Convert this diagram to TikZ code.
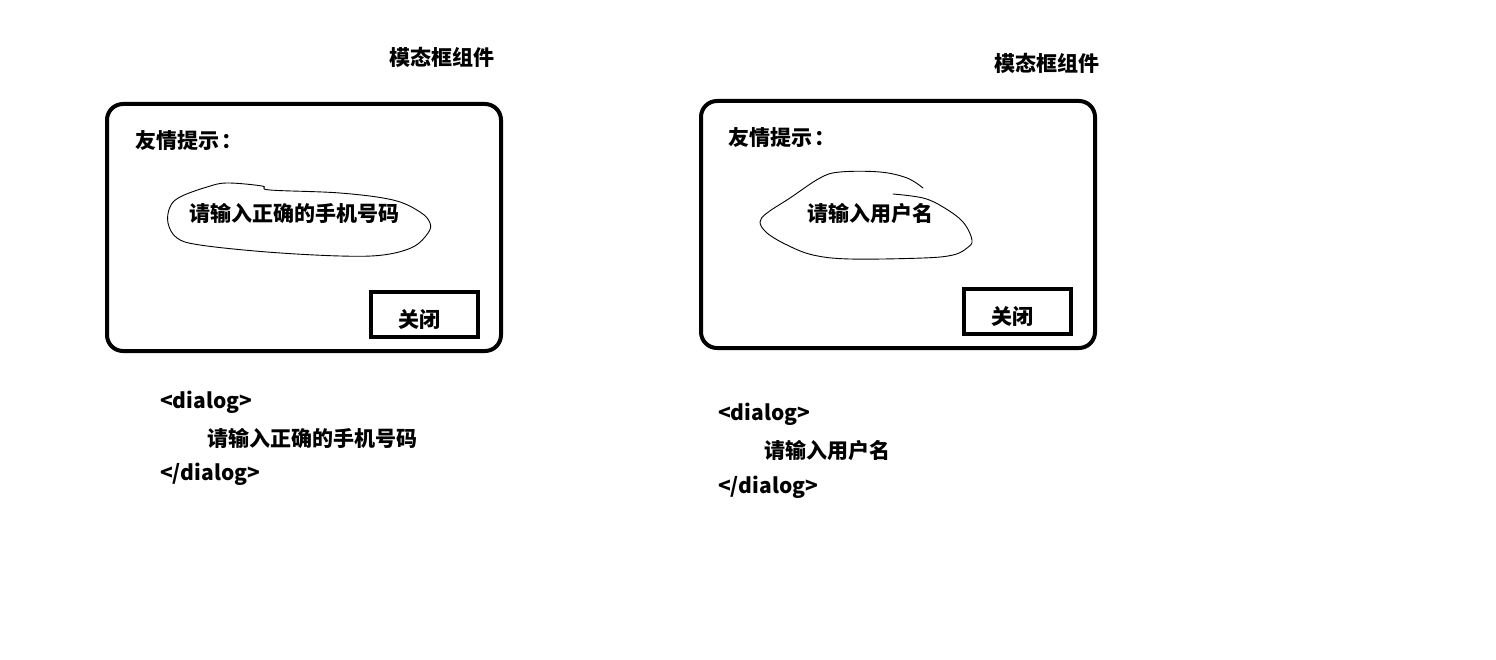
\documentclass[tikz,border=0pt]{standalone}
\usepackage{fontspec}
\setmainfont{Noto Sans CJK SC}
\begin{document}
\begin{tikzpicture}[x=1pt,y=-1pt,
  lbl/.style={font=\fontsize{21}{25}\selectfont\bfseries, inner sep=0pt},
  panel/.style={draw, line width=4pt, rounded corners=16pt, minimum width=394pt, minimum height=247pt, anchor=north west, inner sep=0pt, outer sep=0pt},
  btn/.style={draw, line width=4.5pt, minimum width=107pt, minimum height=45pt, anchor=north west, inner sep=0pt, outer sep=0pt},
  scribble/.style={line width=0.9pt, line cap=round, line join=round}]
\useasboundingbox (0,0) rectangle (1496,660);

% ---- left dialog ----
\node[lbl] (titleL) at (442,57) {模态框组件};
\node[panel] (boxL) at (107,104) {};
\node[lbl, anchor=west] (tipL) at (135,141) {友情提示\hspace{2pt}：};
\draw[scribble] plot[smooth cycle, tension=0.6] coordinates {
  (227,183) (262,186) (270,190) (340,193) (393,200) (420,212) (430,223)
  (428,233) (413,247) (383,255) (340,256) (267,252) (200,245) (177,238)
  (168,223) (170,207) (180,197) (207,187)};
\node[lbl] (msgL) at (294,213) {请输入正确的手机号码};
\node[btn] (closeL) at (371,292) {};
\node[lbl] (closeLt) at (419,319) {关闭};

\node[lbl, anchor=west] (codeL1) at (160,402) {<dialog>};
\node[lbl, anchor=west] (codeL2) at (207,438) {请输入正确的手机号码};
\node[lbl, anchor=west] (codeL3) at (160,474) {</dialog>};

% ---- right dialog ----
\node[lbl] (titleR) at (1047,63) {模态框组件};
\node[panel] (boxR) at (701,101) {};
\node[lbl, anchor=west] (tipR) at (728,138) {友情提示\hspace{2pt}：};
\draw[scribble] plot[smooth, tension=0.6] coordinates {
  (893,194) (923,198) (943,207) (963,222) (972,240) (967,248) (953,255)
  (923,258) (850,259) (813,255) (787,245) (767,233) (760,222) (767,213)
  (790,198) (820,178) (840,172) (880,172) (907,178) (923,188)};
\node[lbl] (msgR) at (870,214) {请输入用户名};
\node[btn] (closeR) at (964,289) {};
\node[lbl] (closeRt) at (1012,316) {关闭};

\node[lbl, anchor=west] (codeR1) at (718,414) {<dialog>};
\node[lbl, anchor=west] (codeR2) at (764,451) {请输入用户名};
\node[lbl, anchor=west] (codeR3) at (718,487) {</dialog>};
\end{tikzpicture}
\end{document}
